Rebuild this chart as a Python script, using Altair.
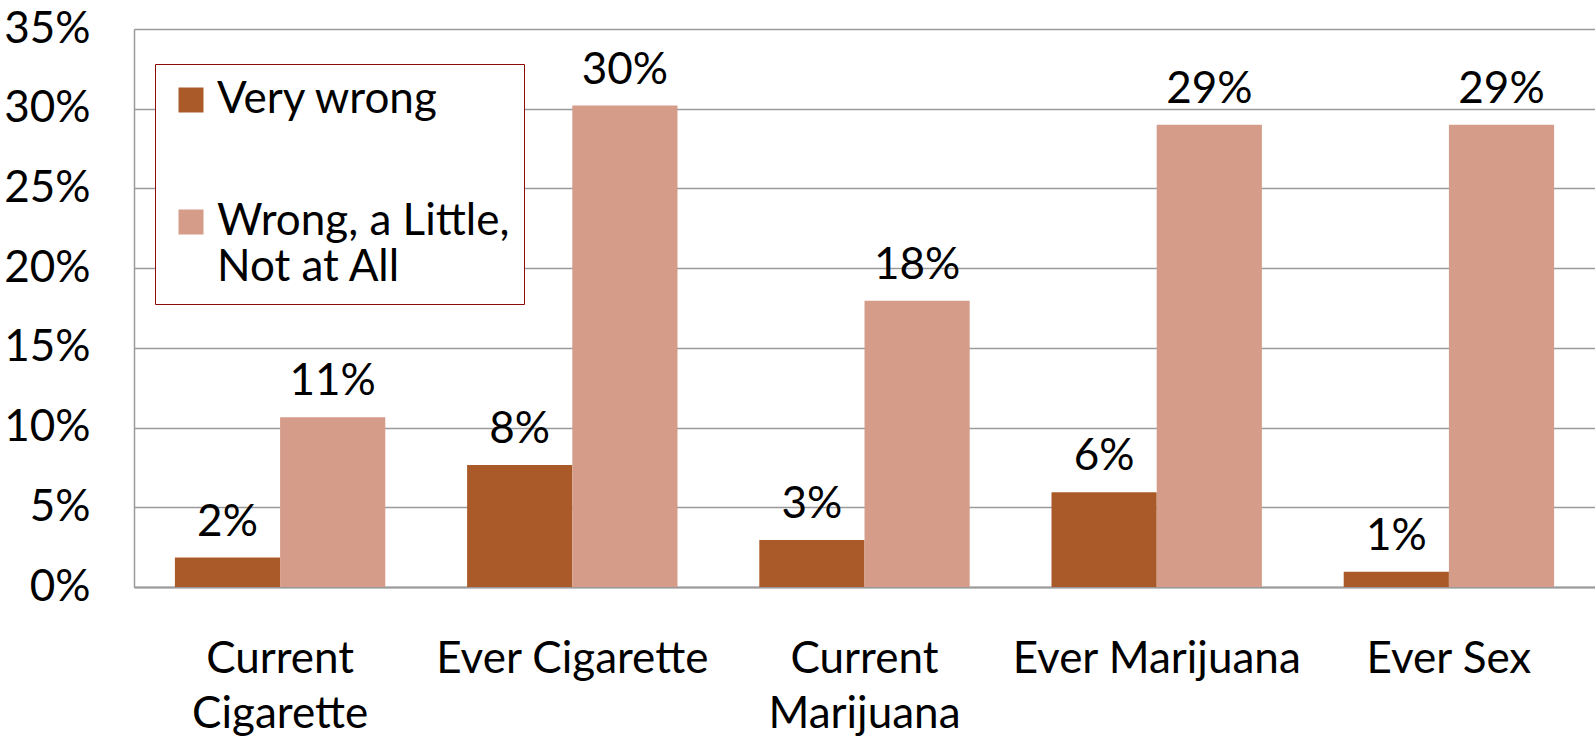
import altair as alt
import pandas as pd

categories = ["Current Cigarette", "Ever Cigarette", "Current Marijuana", "Ever Marijuana", "Ever Sex"]
series = ["Very wrong", "Wrong, a Little, Not at All"]
very_wrong = [1.85, 7.65, 2.95, 5.95, 0.95]
wrong_little = [10.65, 30.2, 17.95, 29.0, 29.0]
very_wrong_labels = ["2%", "8%", "3%", "6%", "1%"]
wrong_little_labels = ["11%", "30%", "18%", "29%", "29%"]
colors = ["#AA5A28", "#D59C89"]
y_ticks = [0, 5, 10, 15, 20, 25, 30, 35]

rows = []
for i, c in enumerate(categories):
    rows.append({"category": c, "series": series[0], "value": very_wrong[i], "label": very_wrong_labels[i]})
    rows.append({"category": c, "series": series[1], "value": wrong_little[i], "label": wrong_little_labels[i]})
df = pd.DataFrame(rows)

FONT = "Lato"
FS = 44

x = alt.X("category:N", sort=categories, title=None,
          scale=alt.Scale(paddingInner=0.28, paddingOuter=0.14),
          axis=alt.Axis(labelAngle=0, ticks=False, domainColor="#9a9a9a", domainWidth=2,
                        labelPadding=50, labelBaseline="top", labelLineHeight=55,
                        labelFont=FONT, labelFontSize=FS, labelColor="black", labelLimit=0,
                        labelExpr="indexof(datum.label, 'Current') == 0 ? split(datum.label, ' ') : datum.label"))
xo = alt.XOffset("series:N", sort=series, scale=alt.Scale(paddingInner=0, paddingOuter=0))
y = alt.Y("value:Q", title=None,
          scale=alt.Scale(domain=[0, 35], nice=False, zero=True),
          axis=alt.Axis(values=y_ticks, labelExpr="datum.value + '%'", ticks=False,
                        grid=True, gridColor="#9a9a9a", gridWidth=1.5,
                        domainColor="#9a9a9a", domainWidth=1.5,
                        labelPadding=44, labelFont=FONT, labelFontSize=FS, labelColor="black"))

bars = alt.Chart(df).mark_bar().encode(
    x=x, xOffset=xo, y=y,
    color=alt.Color("series:N", sort=series,
                    scale=alt.Scale(domain=series, range=colors),
                    legend=alt.Legend(orient="none", legendX=21, legendY=35, title=None,
                                      symbolType="square", symbolSize=625, symbolStrokeWidth=0,
                                      fillColor="white", strokeColor="#8B0A0A",
                                      padding=14, rowPadding=78, labelOffset=4,
                                      labelFont=FONT, labelFontSize=FS, labelColor="black", labelLimit=0,
                                      labelBaseline="middle",
                                      labelExpr="datum.label == 'Wrong, a Little, Not at All' ? ['Wrong, a Little,', 'Not at All'] : datum.label")),
)

texts = alt.Chart(df).mark_text(font=FONT, fontSize=FS, baseline="alphabetic", dy=-22, color="black").encode(
    x=alt.X("category:N", sort=categories), xOffset=xo, y=alt.Y("value:Q"), text="label:N"
)

chart = alt.layer(bars, texts).properties(
    width=1461, height=558,
    padding={"left": 134, "top": 29, "right": 0, "bottom": 153},
    autosize=alt.AutoSizeParams(type="none"),
).configure_view(stroke=None)

chart.save("out.html", embed_options={"renderer": "svg", "actions": False})
